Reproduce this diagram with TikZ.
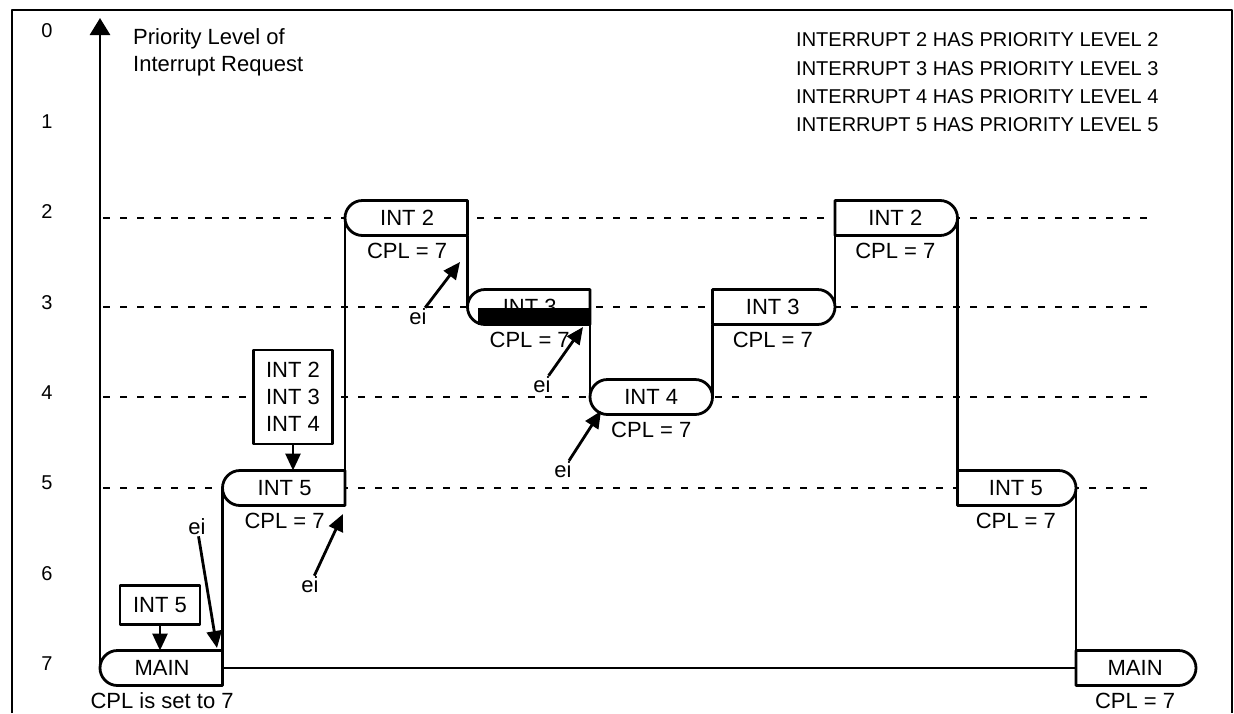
\documentclass[tikz,border=0pt]{standalone}
\usepackage{fontspec}
\setmainfont{Liberation Sans}
\usetikzlibrary{arrows.meta,shapes.misc,positioning}
\begin{document}
\begin{tikzpicture}[x=1pt,y=-1pt,line join=round,font=\fontsize{22}{27}\selectfont,>={Triangle[length=17pt,width=15pt]},
  trace/.style={line width=2.8pt},
  blk/.style={rounded rectangle,draw,line width=2.8pt,fill=white,minimum width=122.5pt,minimum height=35pt,inner sep=0pt,outer sep=0pt,anchor=west},
  lft/.style={blk,rounded rectangle right arc=none},
  rgt/.style={blk,rounded rectangle left arc=none},
  cpl/.style={label={[inner sep=1pt,label distance=6pt]below:{#1}}},
  req/.style={draw,line width=2.8pt,fill=white,align=center,inner sep=0pt,outer sep=0pt}]
\useasboundingbox (0,0) rectangle (1234,713);
\draw[line width=2.2pt] (12,713)--(12,10)--(1232,10)--(1232,713);
\foreach \l in {0,...,7}\node[font=\fontsize{20}{24}\selectfont] (lv\l) at (47,{31+90.4*\l}) {\l};
\foreach \y in {218,307,397,488}\draw[line width=2.2pt,dash pattern=on 7pt off 10pt] (103,\y)--(1155,\y);
\node[align=left,anchor=north west,inner sep=0pt] (ttl) at (133,28) {Priority Level of\\Interrupt Request};
\foreach \n in {2,...,5}\node[anchor=west,inner sep=0pt,font=\fontsize{20}{24}\selectfont] (lg\n) at (796,{40+28.3*(\n-2)}) {INTERRUPT \n\ HAS PRIORITY LEVEL \n};
% levels of the trace
\coordinate (L2) at (0,218); \coordinate (L3) at (0,307); \coordinate (L4) at (0,397);
\coordinate (L5) at (0,488); \coordinate (L7) at (0,668);
\node[lft,cpl=CPL is set to 7] (main1) at (100,668) {MAIN};
\node[lft,cpl={CPL = 7}] (int5a) at (main1.east |- L5) {INT 5};
\node[lft,cpl={CPL = 7}] (int2a) at (int5a.east |- L2) {INT 2};
\node[lft,cpl={CPL = 7}] (int3a) at (int2a.east |- L3) {INT 3};
\node[blk,cpl={CPL = 7}] (int4) at (int3a.east |- L4) {INT 4};
\node[rgt,cpl={CPL = 7}] (int3b) at (int4.east |- L3) {INT 3};
\node[rgt,cpl={CPL = 7}] (int2b) at (int3b.east |- L2) {INT 2};
\node[rgt,cpl={CPL = 7},minimum width=118.5pt] (int5b) at (int2b.east |- L5) {INT 5};
\node[rgt,cpl={CPL = 7},minimum width=120pt] (main2) at (int5b.east |- L7) {MAIN};
\fill ([xshift=-112pt]int3a.south east) rectangle ([yshift=17pt]int3a.south east);
\coordinate (top) at (100,18);
\draw[trace,-{Triangle[length=17pt,width=20pt]}] (main1.west)--(top);
\draw[trace] (main1.north east)--(int5a.west) (int5a.north east)--(int2a.west) (int2a.south east)--(int3a.west)
  (int3a.south east)--(int4.west) (int4.east)--(int3b.south west) (int3b.east)--(int2b.south west)
  (int2b.east)--(int5b.north west) (int5b.east)--(main2.north west) (main1.east)--(main2.west);
% requests
\node[req,minimum width=80pt,minimum height=39pt] (rq1) at (160,605) {INT 5};
\node[req,minimum width=79pt,minimum height=94pt] (rq2) at (293,397) {INT 2\\INT 3\\INT 4};
\draw[trace,->] (rq1.south)--(rq1.south |- main1.north);
\draw[trace,->] (rq2.south)--(rq2.south |- int5a.north);
% enable interrupts
\foreach \i/\p/\q in {1/{197,527}/{217,648},2/{310,585}/{343,514},3/{418,317}/{460,262},4/{542,385}/{583,327},5/{563,470}/{601,411}}{
  \node[inner sep=1pt] (ei\i) at (\p) {ei};
  \coordinate (t\i) at (\q);
  \draw[trace,->] (ei\i)--(t\i);}
\end{tikzpicture}
\end{document}
